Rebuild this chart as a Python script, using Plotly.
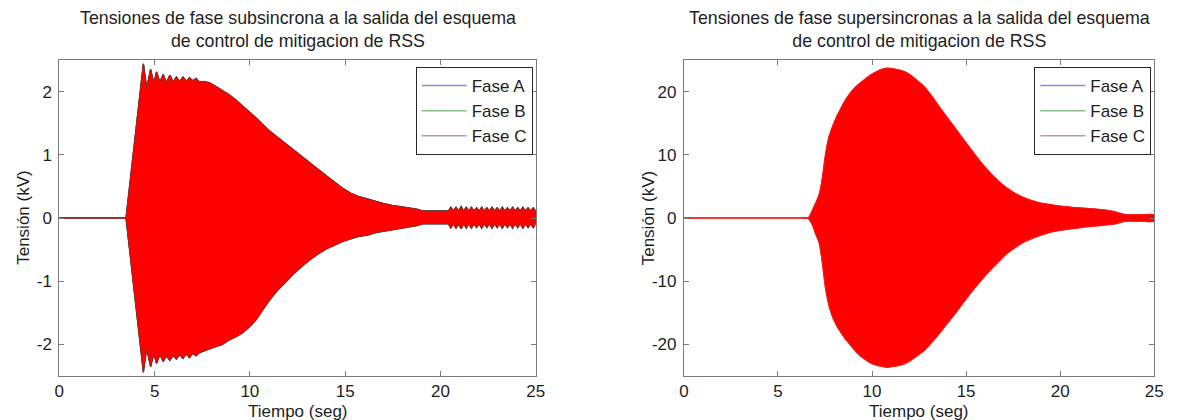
import plotly.graph_objects as go

# ---- Tensiones subsincronas (kV): envolvente superior / inferior ----
sub_time = [0.0, 3.5, 4.41, 4.58, 4.79, 4.96, 5.10, 5.28, 5.45, 5.62, 5.80, 5.98,
            6.14, 6.32, 6.49, 6.67, 6.83, 7.00, 7.18, 7.35, 7.53, 7.87, 8.22, 8.55,
            8.91, 9.25, 9.60, 9.95, 10.30, 10.64, 10.98, 11.40, 11.85, 12.30, 12.71,
            13.15, 13.58, 14.00, 14.44, 14.87, 15.30, 15.70, 16.17, 16.60, 17.00,
            17.45, 17.90, 18.30, 18.75, 19.10, 20.30, 20.42, 20.55, 20.68, 20.82,
            20.95, 21.09, 21.22, 21.36, 21.49, 21.63, 21.76, 21.90, 22.03, 22.17,
            22.30, 22.44, 22.57, 22.71, 22.84, 22.98, 23.11, 23.25, 23.38, 23.52,
            23.65, 23.79, 23.92, 24.06, 24.19, 24.33, 24.46, 24.60, 24.73, 24.87, 25.0]
sub_upper = [0.0, 0.0, 2.44, 2.05, 2.35, 2.13, 2.31, 2.15, 2.27, 2.14, 2.26, 2.15,
             2.23, 2.16, 2.23, 2.16, 2.22, 2.17, 2.21, 2.15, 2.16, 2.14, 2.08, 2.02,
             1.95, 1.87, 1.78, 1.69, 1.59, 1.49, 1.39, 1.29, 1.18, 1.07, 0.97,
             0.87, 0.77, 0.67, 0.57, 0.47, 0.39, 0.34, 0.30, 0.26, 0.23,
             0.20, 0.18, 0.16, 0.14, 0.11, 0.11, 0.11, 0.17, 0.11, 0.17,
             0.11, 0.18, 0.11, 0.17, 0.11, 0.17, 0.11, 0.16, 0.11, 0.17,
             0.11, 0.16, 0.11, 0.17, 0.11, 0.16, 0.11, 0.17, 0.11, 0.16,
             0.11, 0.17, 0.11, 0.16, 0.11, 0.17, 0.11, 0.16, 0.11, 0.16, 0.11]
sub_lower = [0.0, 0.0, -2.44, -2.06, -2.35, -2.14, -2.30, -2.16, -2.27, -2.18, -2.25, -2.17,
             -2.23, -2.16, -2.22, -2.15, -2.21, -2.14, -2.18, -2.13, -2.11, -2.07, -2.03, -2.00,
             -1.93, -1.88, -1.82, -1.73, -1.62, -1.48, -1.32, -1.16, -1.02, -0.88, -0.77,
             -0.66, -0.57, -0.49, -0.43, -0.37, -0.33, -0.29, -0.27, -0.23, -0.21,
             -0.18, -0.16, -0.14, -0.12, -0.09, -0.09, -0.09, -0.16, -0.09, -0.16,
             -0.09, -0.17, -0.09, -0.16, -0.09, -0.16, -0.09, -0.15, -0.09, -0.16,
             -0.09, -0.15, -0.09, -0.16, -0.09, -0.15, -0.09, -0.16, -0.09, -0.15,
             -0.09, -0.16, -0.09, -0.15, -0.09, -0.16, -0.09, -0.15, -0.09, -0.15, -0.09]

# ---- Tensiones supersincronas (kV): envolvente superior / inferior ----
sup_time = [0.0, 3.0, 6.3, 6.6, 6.7, 6.8, 6.9, 7.0, 7.1, 7.2, 7.3, 7.4, 7.5, 7.6, 7.7, 7.85,
            8.0, 8.15, 8.3, 8.55, 8.8, 9.05, 9.3, 9.6, 9.9, 10.15, 10.4, 10.8, 11.3,
            11.6, 11.9, 12.35, 12.8, 13.2, 13.6, 14.05, 14.5, 14.95, 15.4, 15.85,
            16.3, 16.7, 17.1, 17.55, 18.0, 18.45, 18.9, 19.3, 19.7, 20.6, 21.5,
            22.3, 22.9, 23.1, 23.3, 23.6, 24.3, 25.0]
sup_upper = [0.0, 0.0, 0.0, 0.0, 0.4, 1.0, 1.7, 2.3, 3.0, 3.8, 5.2, 7.2, 9.5, 11.3, 12.7, 14.1,
             15.2, 16.2, 17.1, 18.5, 19.6, 20.5, 21.2, 21.9, 22.6, 23.0, 23.4, 23.7, 23.5,
             23.3, 22.9, 21.9, 20.7, 19.2, 17.5, 15.7, 13.9, 12.1, 10.3, 8.6,
             7.1, 5.9, 4.9, 4.0, 3.3, 2.8, 2.4, 2.2, 2.0, 1.7, 1.5,
             1.3, 1.0, 0.8, 0.65, 0.5, 0.5, 0.5]
sup_lower = [0.0, 0.0, 0.0, 0.0, -0.4, -0.9, -1.6, -2.5, -3.2, -4.0, -5.8, -8.0, -10.5, -12.3, -13.7, -15.2,
             -16.3, -17.2, -17.9, -19.0, -19.9, -20.8, -21.6, -22.3, -22.9, -23.2, -23.4, -23.6, -23.4,
             -23.2, -22.8, -21.9, -20.9, -19.6, -18.2, -16.5, -14.8, -13.0, -11.3, -9.7,
             -8.2, -7.0, -5.8, -4.8, -3.9, -3.3, -2.8, -2.4, -2.1, -1.7, -1.35,
             -1.15, -0.95, -0.8, -0.6, -0.5, -0.5, -0.5]

phase_names = ["Fase A", "Fase B", "Fase C"]
legend_colors = ["#8c8cd0", "#8cbc8c", "#c89696"]
FILL_RED = "#ff0000"

x_ticks = [0, 5, 10, 15, 20, 25]
sub_ticks = [-2, -1, 0, 1, 2]
sup_ticks = [-20, -10, 0, 10, 20]

TITLE_SUB = "Tensiones de fase subsincrona a la salida del esquema<br>de control de mitigacion de RSS"
TITLE_SUP = "Tensiones de fase supersincronas a la salida del esquema<br>de control de mitigacion de RSS"
X_TITLE = "Tiempo (seg)"
Y_TITLE = "Tensión (kV)"

W, H = 1184, 420
FONT = "Liberation Sans, Arial, Helvetica, sans-serif"
TXT = "#1e1e1e"

fig = go.Figure()


def band(time, upper, lower):
    xs = list(time) + list(time)[::-1]
    ys = list(upper) + list(lower)[::-1]
    return xs, ys


def add_phases(time, upper, lower, xref, yref, legend_id, edge_widths, edge_colors, shape):
    xs, ys = band(time, upper, lower)
    for name, w, c in zip(phase_names, edge_widths, edge_colors):
        fig.add_trace(go.Scatter(
            x=xs, y=ys, mode="lines", fill="toself", fillcolor=FILL_RED,
            line=dict(color=c, width=w, shape=shape, smoothing=0.6), name=name,
            showlegend=False, hoverinfo="skip", xaxis=xref, yaxis=yref))
    for name, c in zip(phase_names, legend_colors):
        fig.add_trace(go.Scatter(
            x=[None], y=[None], mode="lines", name=name,
            line=dict(color=c, width=1.5), legend=legend_id,
            xaxis=xref, yaxis=yref))


add_phases(sub_time, sub_upper, sub_lower, "x", "y", "legend",
           [1.4, 1.2, 0.5], ["#3a2a60", "#3a4a28", "#e01010"], "linear")
add_phases(sup_time, sup_upper, sup_lower, "x2", "y2", "legend2",
           [0.6, 0.6, 1.2], ["#ff2020", "#ff2020", "#f01818"], "spline")


def fmt(v):
    return str(v).replace("\u2212", "-")


axis_common = dict(
    showgrid=False, zeroline=False, showline=True, linecolor="#7a7a7a", linewidth=1,
    mirror="ticks", ticks="inside", ticklen=5, tickcolor="#7a7a7a",
    tickfont=dict(family=FONT, size=17, color=TXT),
)

fig.update_layout(
    width=W, height=H,
    margin=dict(l=0, r=0, t=0, b=0),
    paper_bgcolor="white", plot_bgcolor="white",
    font=dict(family=FONT, size=17, color=TXT),
    xaxis=dict(domain=[55 / W, 537 / W], range=[0, 25], tickvals=x_ticks,
               ticktext=[fmt(v) for v in x_ticks], anchor="y", ticklabelstandoff=0, **axis_common),
    yaxis=dict(domain=[1 - 376 / H, 1 - 60 / H], range=[-2.5, 2.5], tickvals=sub_ticks,
               ticktext=[fmt(v) for v in sub_ticks], anchor="x", ticklabelstandoff=3, **axis_common),
    xaxis2=dict(domain=[687 / W, 1163 / W], range=[0, 25], tickvals=x_ticks,
                ticktext=[fmt(v) for v in x_ticks], anchor="y2", ticklabelstandoff=0, **axis_common),
    yaxis2=dict(domain=[1 - 376 / H, 1 - 60 / H], range=[-25, 25], tickvals=sup_ticks,
                ticktext=[fmt(v) for v in sup_ticks], anchor="x2", ticklabelstandoff=3, **axis_common),
    legend=dict(x=534 / W, xanchor="right", y=1 - 67 / H, yanchor="top",
                bgcolor="white", bordercolor="#262626", borderwidth=1,
                font=dict(family=FONT, size=17, color=TXT), itemwidth=45,
                tracegroupgap=0),
    legend2=dict(x=1160 / W, xanchor="right", y=1 - 67 / H, yanchor="top",
                 bgcolor="white", bordercolor="#262626", borderwidth=1,
                 font=dict(family=FONT, size=17, color=TXT), itemwidth=45,
                 tracegroupgap=0),
    showlegend=True,
)

annotations = []
for cx, title in ((296, TITLE_SUB), (925, TITLE_SUP)):
    annotations.append(dict(text=title, x=cx / W, y=1 - 30 / H, xref="paper", yref="paper",
                            xanchor="center", yanchor="middle", showarrow=False,
                            font=dict(family=FONT, size=17.8, color=TXT)))
for cx in (296, 925):
    annotations.append(dict(text=X_TITLE, x=cx / W, y=1 - 411 / H, xref="paper", yref="paper",
                            xanchor="center", yanchor="middle", showarrow=False,
                            font=dict(family=FONT, size=17, color=TXT)))
for cx in (18, 651):
    annotations.append(dict(text=Y_TITLE, x=cx / W, y=1 - 218 / H, xref="paper", yref="paper",
                            xanchor="center", yanchor="middle", showarrow=False, textangle=-90,
                            font=dict(family=FONT, size=17, color=TXT)))
fig.update_layout(annotations=annotations)

fig.write_html("out.html")
